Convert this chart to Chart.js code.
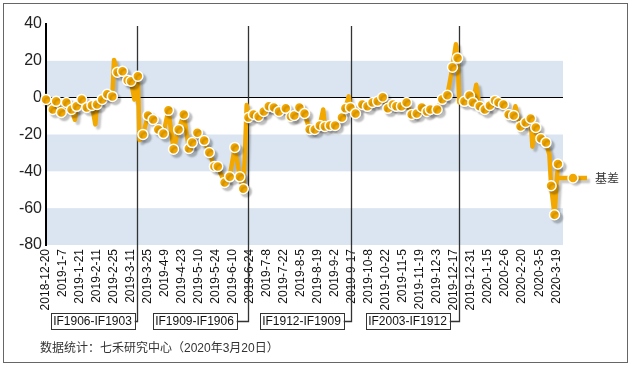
<!DOCTYPE html>
<html>
<head>
<meta charset="utf-8">
<script src="https://cdn.jsdelivr.net/npm/chart.js@4.4.0/dist/chart.umd.min.js"></script>
<style>
  html, body { margin: 0; padding: 0; background: #fff; }
  #wrap { position: relative; width: 631px; height: 366px; }
</style>
</head>
<body>
<div id="wrap"><canvas id="chart" width="631" height="366"></canvas></div>
<script>
// trading-day index (0 = 2018-12-20) and basis
const dayIndex = [
    0, 4, 6, 9, 12, 15, 17, 18, 21, 24, 27, 29, 30, 33, 36, 39, 40, 42, 45, 48, 50, 52, 54,
    55, 57, 60, 63, 66, 69, 72, 75, 78, 81, 84, 86, 89, 93, 96, 99, 101, 105, 108, 111, 114, 116, 117, 118,
    119, 122, 125, 128, 131, 134, 137, 141, 144, 146, 149, 152, 155, 158, 161, 163, 164, 167, 170, 174, 176, 178, 179,
    182, 186, 189, 192, 195, 198, 201, 204, 206, 209, 212, 215, 218, 221, 224, 226, 230, 233, 236, 239, 241, 242,
    243, 246, 249, 251, 253, 255, 258, 261, 264, 266, 269, 272, 275, 276, 279, 282, 285, 286, 288, 291, 294, 296, 297, 299, 301,
];
const basis = [
    -1, -6.4, -2, -8, -2.6, -6.4, -12, -4.7, -1, -5.3, -4.2, -14.5, -3.7, -1, 1.8, 0.7, 20.5, 13.8, 14.3, 9.4, 8.9, -1, 11.6,
    -23, -20, -9.7, -11.9, -17.3, -19.5, -6.9, -28, -17.3, -9.1, -27.6, -24.4, -19, -23.3, -29.8, -37.4, -37.4, -46, -43, -27, -43, -49.4, -30, -4,
    -10.8, -9.1, -10.2, -7.5, -4.7, -5.3, -7.5, -5.8, -10.2, -9.7, -5.3, -8.6, -17.3, -17.3, -15.1, -6.4, -15.6, -15.1, -15.1, -10.8, -5.8, 0.7, -5.3,
    -8.6, -3.7, -4.7, -2.6, -2, 0.2, -5.8, -3.7, -4.7, -4.7, -2.6, -9.1, -8.6, -5.3, -7.5, -6.4, -6.4, -0.9, 1.3, 16.5, 29, 21.5,
    -2.6, -2, 1.2, -2.6, 7, -4.7, -6.4, -4.2, -1.5, -2.6, -3.7, -9.1, -9.7, -4.7, -15.6, -13.5, -11.3, -26.6, -16.2, -22.2, -24.4, -31, -47.8, -63.6, -36,
];
// daily spikes in the line that carry no marker
const noMarkerDays = [17, 29, 40, 52, 55, 117, 118, 163, 178, 241, 243, 253, 276, 286, 296];

const tickDates = [
    "2018-12-20", "2019-1-7", "2019-1-21", "2019-2-11", "2019-2-25", "2019-3-11", "2019-3-25",
    "2019-4-9", "2019-4-23", "2019-5-10", "2019-5-24", "2019-6-10", "2019-6-24", "2019-7-8",
    "2019-7-22", "2019-8-5", "2019-8-19", "2019-9-2", "2019-9-17", "2019-10-8", "2019-10-22",
    "2019-11-5", "2019-11-19", "2019-12-3", "2019-12-17", "2019-12-31", "2020-1-15", "2020-2-6",
    "2020-2-20", "2020-3-5", "2020-3-19",
];
const yTicks = [40, 20, 0, -20, -40, -60, -80];

// contract roll days and their spread labels
const rollDays = [53.5, 119, 179.5, 243];
const rollLabels = ["IF1906-IF1903", "IF1909-IF1906", "IF1912-IF1909", "IF2003-IF1912"];

const seriesName = "基差";
const footnote = "数据统计：七禾研究中心（2020年3月20日）";

const ORANGE = "#F3A800";
const BAND = "#DAE5F1";
const LATIN = '"Liberation Sans", Arial, "Noto Sans CJK SC", sans-serif';

// alternating light-blue bands behind the plot
const bandsPlugin = {
    id: "bands",
    beforeDraw(chart) {
        const {ctx, chartArea: {left, right}, scales: {y}} = chart;
        ctx.save();
        ctx.fillStyle = BAND;
        [[20, 0], [-20, -40], [-60, -80]].forEach(([a, b]) => {
            const y1 = y.getPixelForValue(a);
            const y2 = y.getPixelForValue(b);
            ctx.fillRect(left, y1, right - left, y2 - y1);
        });
        ctx.restore();
    },
};

// roll lines with their label boxes underneath the axis
const calloutPlugin = {
    id: "callouts",
    beforeDatasetsDraw(chart) {
        const {ctx, scales: {x}} = chart;
        const gaps = [3, 12, 8, 10];
        ctx.save();
        ctx.font = "12px " + LATIN;
        ctx.textAlign = "center";
        ctx.textBaseline = "middle";
        rollDays.forEach((d, i) => {
            const px = Math.round(x.getPixelForValue(d)) + 0.5;
            const boxR = px - gaps[i];
            const boxL = boxR - 84;
            ctx.strokeStyle = "#333";
            ctx.lineWidth = 1.3;
            ctx.beginPath();
            ctx.moveTo(px, 26);
            ctx.lineTo(px, 321.5);
            ctx.lineTo(boxR, 321.5);
            ctx.stroke();
            ctx.fillStyle = "#fff";
            ctx.fillRect(boxL, 313.5, 84, 16);
            ctx.lineWidth = 1;
            ctx.strokeRect(Math.round(boxL) + 0.5, 313.5, 84, 16);
            ctx.fillStyle = "#111";
            ctx.fillText(rollLabels[i], boxL + 42, 322);
        });
        ctx.restore();
    },
};

// soft grey drop shadow under the basis line, like the source
const shadowPlugin = {
    id: "shadow",
    beforeDatasetsDraw(chart) {
        const ctx = chart.ctx;
        ctx.save();
        ctx.shadowColor = "rgba(0,0,0,0.22)";
        ctx.shadowOffsetX = 3;
        ctx.shadowOffsetY = 3;
        ctx.shadowBlur = 2;
    },
    afterDatasetsDraw(chart) {
        chart.ctx.restore();
    },
};

// legend at right, footnote and outer frame
const decorPlugin = {
    id: "decor",
    afterDraw(chart) {
        const {ctx, chartArea: {right}} = chart;
        const ly = 178;
        ctx.save();
        ctx.shadowColor = "rgba(0,0,0,0.22)";
        ctx.shadowOffsetX = 3;
        ctx.shadowOffsetY = 3;
        ctx.shadowBlur = 2;
        ctx.strokeStyle = ORANGE;
        ctx.lineWidth = 4.5;
        ctx.beginPath();
        ctx.moveTo(right - 4, ly);
        ctx.lineTo(right + 24, ly);
        ctx.stroke();
        ctx.beginPath();
        ctx.arc(right + 10, ly, 5, 0, Math.PI * 2);
        ctx.fillStyle = ORANGE;
        ctx.fill();
        ctx.shadowColor = "transparent";
        ctx.lineWidth = 1.5;
        ctx.strokeStyle = "#fff";
        ctx.stroke();
        ctx.restore();

        ctx.save();
        ctx.fillStyle = "#333";
        ctx.textBaseline = "middle";
        ctx.font = '12px "Noto Sans CJK SC", sans-serif';
        ctx.fillText(seriesName, right + 32, ly);
        ctx.font = "12px " + LATIN;
        ctx.fillText(footnote, 40, 349);
        ctx.strokeStyle = "#666";
        ctx.lineWidth = 1;
        ctx.strokeRect(3.5, 3.5, 624, 359);
        ctx.restore();
    },
};

new Chart(document.getElementById("chart"), {
    type: "line",
    data: {
        datasets: [
            {
                label: seriesName,
                data: dayIndex.map((d, i) => ({x: d, y: basis[i]})),
                borderColor: ORANGE,
                borderWidth: 4.5,
                borderJoinStyle: "round",
                pointRadius: dayIndex.map((d) => (noMarkerDays.includes(d) ? 0 : 5)),
                pointBackgroundColor: ORANGE,
                pointBorderColor: "#fff",
                pointBorderWidth: 1.5,
                tension: 0,
                clip: false,
            },
        ],
    },
    options: {
        responsive: false,
        animation: false,
        layout: {padding: {left: 4, top: 24, right: 68, bottom: 0}},
        plugins: {legend: {display: false}, tooltip: {enabled: false}},
        scales: {
            x: {
                type: "linear",
                min: 0,
                max: 304,
                afterBuildTicks(s) {
                    s.ticks = tickDates.map((_, i) => ({value: i * 10}));
                },
                afterFit(s) {
                    s.height = 121;
                },
                grid: {display: false, drawTicks: false},
                border: {display: false},
                ticks: {
                    autoSkip: false,
                    minRotation: 90,
                    maxRotation: 90,
                    padding: 4,
                    color: "#111",
                    font: {family: LATIN, size: 12},
                    callback: (v) => tickDates[Math.round(v / 10)],
                },
            },
            y: {
                min: -80,
                max: 40,
                afterBuildTicks(s) {
                    s.ticks = yTicks.map((v) => ({value: v}));
                },
                afterFit(s) {
                    s.width = 42;
                },
                grid: {
                    drawTicks: false,
                    lineWidth: 1,
                    color: (c) => (c.tick && c.tick.value === 0 ? "#000" : "rgba(0,0,0,0)"),
                },
                border: {color: "#000", width: 2},
                ticks: {padding: 4, color: "#222", font: {family: LATIN, size: 16}},
            },
        },
    },
    plugins: [bandsPlugin, calloutPlugin, shadowPlugin, decorPlugin],
});
</script>
</body>
</html>
